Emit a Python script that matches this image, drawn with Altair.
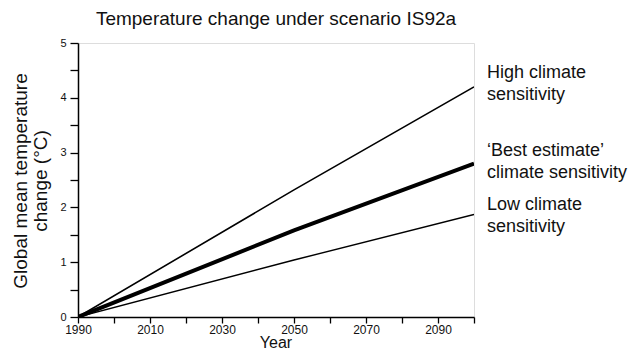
import altair as alt
import pandas as pd

years = [1990, 2050, 2100]
high = [0.0, 2.32, 4.2]
best = [0.0, 1.58, 2.8]
low = [0.0, 1.04, 1.87]
series_names = ["High", "Best", "Low"]
series_widths = [1.6, 4.0, 1.4]

x_ticks = list(range(1990, 2101, 10))
y_ticks = [i * 0.5 for i in range(11)]

title_text = "Temperature change under scenario IS92a"
y_title = ["Global mean temperature", "change (°C)"]
x_title = "Year"
annot = [["High climate", "sensitivity"],
         ["\u2018Best estimate\u2019", "climate sensitivity"],
         ["Low climate", "sensitivity"]]

rows = []
for name, vals in zip(series_names, [high, best, low]):
    for yr, v in zip(years, vals):
        rows.append({"year": yr, "temp": v, "series": name})
df = pd.DataFrame(rows)

FONT = "Liberation Sans"
W, H = 396, 274

xenc = alt.X("year:Q", scale=alt.Scale(domain=[1990, 2100], nice=False, zero=False),
             axis=alt.Axis(values=x_ticks, format="d",
                           labelExpr="(datum.value - 1990) % 20 == 0 && datum.value < 2100 ? datum.label : ''",
                           title=None, grid=False, tickSize=6, labelPadding=1, labelFlush=False,
                           labelFontSize=12, labelFont=FONT, labelColor="#111",
                           domainColor="#000", tickColor="#000", domainWidth=1.5, tickWidth=1.3))
yenc = alt.Y("temp:Q", scale=alt.Scale(domain=[0, 5], nice=False),
             axis=alt.Axis(values=y_ticks,
                           labelExpr="datum.value % 1 == 0 ? format(datum.value, 'd') : ''",
                           title=None, grid=False, tickSize=8, labelPadding=4, labelFlush=False,
                           labelFontSize=11, labelFont=FONT, labelColor="#111",
                           domainColor="#000", tickColor="#000", domainWidth=1.5, tickWidth=1.3))

layers = []
for name, w in zip(series_names, series_widths):
    layers.append(
        alt.Chart(df).transform_filter(alt.datum.series == name)
        .mark_line(color="#000", strokeWidth=w, clip=True)
        .encode(x=xenc, y=yenc)
    )

def txt(text, x, y, size=17, angle=0, align="left", baseline="middle"):
    kw = dict(fontSize=size, font=FONT, color="#111", align=align, baseline=baseline)
    if angle:
        kw["angle"] = angle
    return alt.Chart(pd.DataFrame({"t": [text]})).mark_text(**kw).encode(
        text="t:N", x=alt.value(x), y=alt.value(y))

layers.append(txt(title_text, W / 2, -24, size=19, align="center"))
layers.append(txt(y_title[0], -57, 138, size=19, angle=270, align="center"))
layers.append(txt(y_title[1], -37, 138, size=19, angle=270, align="center"))
layers.append(txt(x_title, W / 2, 305, size=16, align="center", baseline="alphabetic"))

ann_y = [[30, 52], [108, 130], [162, 184]]
for lines, ys in zip(annot, ann_y):
    for line, yy in zip(lines, ys):
        layers.append(txt(line, 409, yy, size=18))

chart = alt.layer(*layers).properties(
    width=W, height=H,
    autosize=alt.AutoSizeParams(type="none"),
    padding={"left": 70, "top": 35, "right": 159, "bottom": 35},
).configure_view(stroke="#000", strokeWidth=1.5).configure(background="white")

chart.save("out.html", embed_options={"renderer": "svg", "actions": False})
